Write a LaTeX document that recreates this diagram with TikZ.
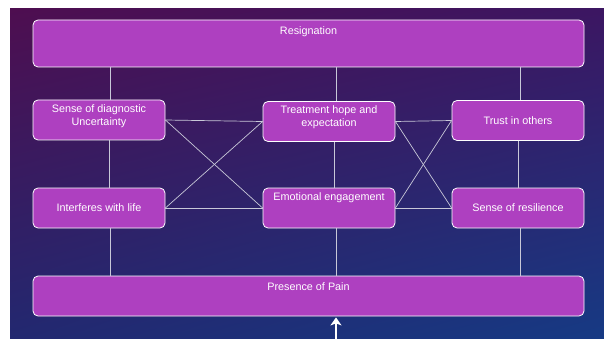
\documentclass[tikz,border=0pt]{standalone}
\usepackage{fontspec}
\setmainfont{Liberation Sans}
\usepackage{tikz}
\usetikzlibrary{arrows.meta,positioning,shadings}

\definecolor{boxfill}{HTML}{AE40C0}
\definecolor{linkgray}{HTML}{C8C8D8}
\definecolor{bgUL}{RGB}{78,14,80}
\definecolor{bgUR}{RGB}{60,22,98}
\definecolor{bgLL}{RGB}{34,40,112}
\definecolor{bgLR}{RGB}{22,58,132}

\begin{document}
\begin{tikzpicture}[x=1pt,y=-1pt,
    box/.style={rectangle,rounded corners=5pt,draw=white,line width=0.8pt,fill=boxfill,
                minimum width=132pt,minimum height=40pt,inner sep=0pt},
    bar/.style={box,minimum width=551pt},
    txt/.style={text=white,font=\fontsize{10.8}{13}\selectfont,align=center,inner sep=0pt},
    link/.style={draw=linkgray,line width=0.7pt}]

  % page and backdrop
  \useasboundingbox (0,0) rectangle (604,339);
  \fill[white] (0,0) rectangle (604,339);
  \shade[upper left=bgUL,upper right=bgUR,lower left=bgLL,lower right=bgLR]
    (10,9) rectangle (604,339);

  % boxes
  \node[bar,minimum height=47pt,label={[txt,anchor=north,yshift=-7pt]north:Resignation}] (resign) at (308.5,43.5) {};
  \node[box,label={[txt,yshift=3.5pt]center:{Sense of diagnostic\\Uncertainty}}] (sdu) at (99,120) {};
  \node[box,label={[txt,yshift=4pt]center:{Treatment hope and\\expectation}}] (hope) at (329,121.5) {};
  \node[box,label={[txt]center:Trust in others}] (trust) at (518,120.5) {};
  \node[box,label={[txt]center:Interferes with life}] (life) at (99,208) {};
  \node[box,label={[txt,yshift=10pt]center:Emotional engagement}] (emo) at (329,208) {};
  \node[box,label={[txt]center:Sense of resilience}] (resil) at (518,208) {};
  \node[bar,label={[txt,anchor=north,yshift=-7pt]north:Presence of Pain}] (pain) at (308.5,296) {};

  % vertical links (x taken from the small box of each column)
  \foreach \up/\dn/\col/\dx in {resign/sdu/sdu/11,sdu/life/sdu/10,life/pain/life/11,
                               resign/hope/hope/7,hope/emo/hope/5,emo/pain/emo/7,
                               resign/trust/trust/2,trust/resil/trust/0,resil/pain/resil/2}
    \draw[link] ([xshift=\dx]\col.center |- \up.south) -- ([xshift=\dx]\col.center |- \dn.north);

  % crossing links
  \path[link]
    (sdu.east) edge (hope.west)
    (sdu.east) edge (emo.west)
    (life.east) edge (hope.west)
    (life.east) edge (emo.west)
    (hope.east) edge (trust.west)
    (hope.east) edge (resil.west)
    (emo.east) edge (trust.west)
    (emo.east) edge (resil.west);

  % arrow into the base
  \coordinate (foot) at (336,339);
  \draw[white,line width=2.6pt,-{Stealth[length=8pt,width=11pt,inset=2pt]}] (foot) -- ([yshift=-1pt]foot |- pain.south);
\end{tikzpicture}
\end{document}
